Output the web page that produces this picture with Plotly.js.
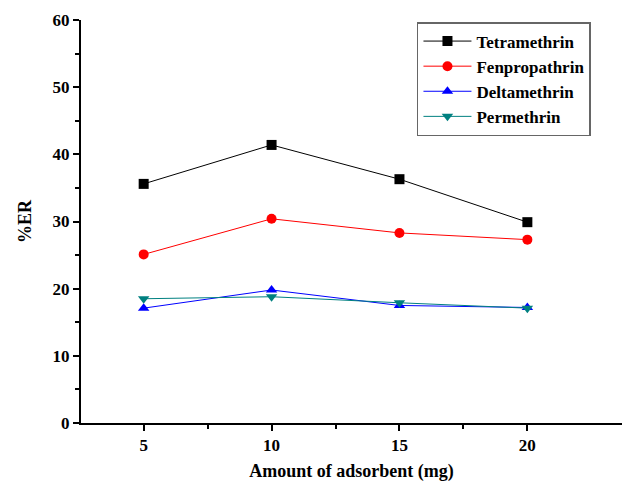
<!DOCTYPE html>
<html>
<head>
<meta charset="utf-8">
<script src="https://cdn.plot.ly/plotly-3.0.1.min.js"></script>
<style>html,body{margin:0;padding:0;background:#fff;}</style>
</head>
<body>
<div id="chart" style="width:622px;height:488px;"></div>
<script>
const amounts = [5, 10, 15, 20];
const tetramethrin = [35.6, 41.4, 36.3, 29.9];
const fenpropathrin = [25.1, 30.4, 28.3, 27.3];
const deltamethrin = [17.1, 19.8, 17.5, 17.2];
const permethrin = [18.5, 18.8, 17.9, 17.1];
const seriesNames = ["Tetramethrin", "Fenpropathrin", "Deltamethrin", "Permethrin"];
const xTickVals = [5, 10, 15, 20];
const yTickVals = [0, 10, 20, 30, 40, 50, 60];

const colors = ["#000000", "#ff0000", "#0000ff", "#008080"];
const symbols = ["square", "circle", "triangle-up", "triangle-down"];
const data = [tetramethrin, fenpropathrin, deltamethrin, permethrin].map((ys, i) => ({
  x: amounts, y: ys, name: seriesNames[i], type: "scatter", mode: "lines+markers",
  line: {color: colors[i], width: 1},
  marker: {color: colors[i], symbol: symbols[i], size: 10}
}));

const ff = "Liberation Serif, Times New Roman, serif";
const layout = {
  width: 622, height: 488,
  margin: {l: 81, r: 0, t: 20, b: 65},
  paper_bgcolor: "#fff", plot_bgcolor: "#fff",
  font: {family: ff, color: "#000", size: 17},
  showlegend: true,
  legend: {
    x: 0.621, y: 0.995, xanchor: "left", yanchor: "top",
    bordercolor: "#666", borderwidth: 1.5, bgcolor: "#fff",
    font: {family: ff, size: 17, color: "#000", weight: "bold"},
    tracegroupgap: 0, itemwidth: 48
  },
  xaxis: {
    range: [2.55, 23.7], showgrid: false, zeroline: false,
    showline: true, linecolor: "#000", linewidth: 2,
    tickvals: xTickVals, ticks: "outside", ticklen: 6, tickwidth: 2, tickcolor: "#000",
    minor: {tickvals: [7.5, 12.5, 17.5], ticks: "outside", ticklen: 4, tickwidth: 2, tickcolor: "#000"},
    tickfont: {family: ff, size: 17, weight: "bold"},
    title: {text: "Amount of adsorbent (mg)", font: {family: ff, size: 18, weight: "bold"}, standoff: 10}
  },
  yaxis: {
    range: [0, 60], showgrid: false, zeroline: false,
    showline: true, linecolor: "#000", linewidth: 2,
    tickvals: yTickVals, ticks: "outside", ticklen: 6, tickwidth: 2, tickcolor: "#000",
    minor: {dtick: 5, ticks: "outside", ticklen: 4, tickwidth: 2, tickcolor: "#000"},
    tickfont: {family: ff, size: 17, weight: "bold"},
    title: {text: "%ER", font: {family: ff, size: 18, weight: "bold"}, standoff: 16}
  }
};
Plotly.newPlot("chart", data, layout, {displayModeBar: false, staticPlot: true});
</script>
</body>
</html>
